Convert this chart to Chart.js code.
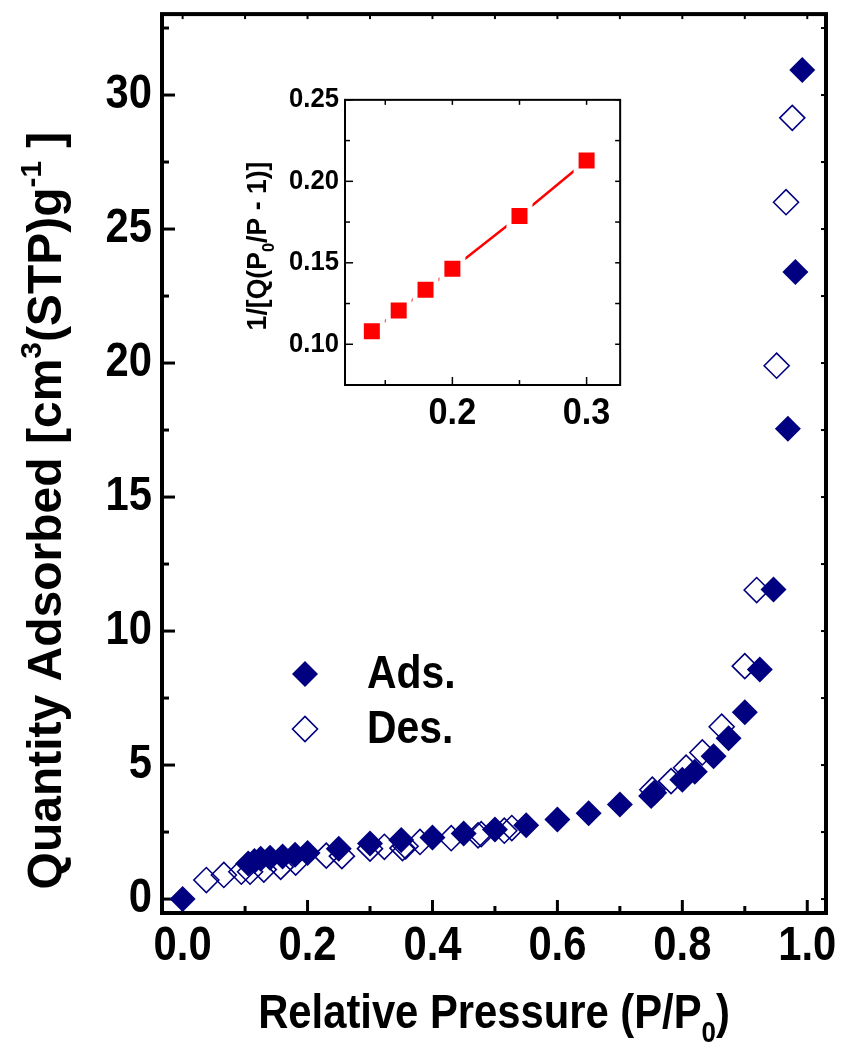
<!DOCTYPE html>
<html><head><meta charset="utf-8">
<script src="https://cdn.jsdelivr.net/npm/chart.js@4.4.1/dist/chart.umd.min.js"></script>
<style>
html,body{margin:0;padding:0;background:#fff;}
#wrap{position:relative;width:844px;height:1045px;overflow:hidden;background:#fff;}
#main{position:absolute;left:0;top:0;}
#inset{position:absolute;left:240px;top:80px;}
</style></head><body>
<div id="wrap"><canvas id="main" width="844" height="1045"></canvas><canvas id="inset" width="400" height="370"></canvas></div>
<script>
// ---- data ----
const adsX = [0.0, 0.105, 0.115, 0.125, 0.14, 0.16, 0.18, 0.2, 0.25, 0.3, 0.35, 0.4, 0.45, 0.5, 0.55, 0.6, 0.65, 0.7, 0.75, 0.755, 0.8, 0.82, 0.85, 0.874, 0.9, 0.924, 0.946, 0.969, 0.981, 0.992];
const adsY = [0.0, 1.33, 1.42, 1.5, 1.54, 1.59, 1.65, 1.72, 1.88, 2.07, 2.2, 2.3, 2.45, 2.6, 2.75, 2.97, 3.2, 3.53, 3.85, 3.97, 4.45, 4.75, 5.33, 6.0, 6.97, 8.57, 11.55, 17.55, 23.4, 30.93];
const desX = [0.038, 0.066, 0.094, 0.108, 0.13, 0.157, 0.181, 0.23, 0.255, 0.3, 0.323, 0.352, 0.357, 0.38, 0.43, 0.473, 0.478, 0.515, 0.527, 0.752, 0.782, 0.806, 0.832, 0.863, 0.9, 0.919, 0.951, 0.966, 0.976];
const desY = [0.71, 0.9, 1.02, 1.02, 1.1, 1.2, 1.36, 1.62, 1.6, 1.88, 1.95, 1.9, 1.97, 2.13, 2.27, 2.38, 2.42, 2.55, 2.65, 4.08, 4.4, 4.9, 5.47, 6.43, 8.69, 11.53, 19.9, 26.0, 29.15];
const seriesLabels = ['Ads.', 'Des.'];
const insetX = [0.14, 0.16, 0.18, 0.2, 0.25, 0.3];
const insetY = [0.108, 0.1207, 0.1335, 0.1463, 0.1787, 0.2128];

const xTitleMain = [['Relative Pressure (P/P',0],['0',-1],[')',0]];
const yTitleMain = [['Quantity Adsorbed [cm',0],['3',1],['(STP)g',0],['-1',1],[' ]',0]];
const yTitleInset = [['1/[Q(P',0],['0',-1],['/P - 1)]',0]];

const FONT = "'Liberation Sans', Arial, 'Helvetica', sans-serif";
const NAVY = '#000080';
const SX = 0.87; // horizontal condensing of the text glyphs

function pts(xs, ys){ return xs.map((x,i)=>({x:x, y:ys[i]})); }

// condense glyphs horizontally around their anchor point (text stays real text)
function condenseCtx(canvas, f){
  const ctx = canvas.getContext('2d');
  const orig = ctx.fillText.bind(ctx);
  ctx.__orig = orig;
  ctx.fillText = function(t, x, y){ this.save(); this.translate(x, y); this.scale(f, 1); orig(t, 0, 0); this.restore(); };
  return ctx;
}

function richText(ctx, segs, x, y, rot, size, sx){
  const fill = ctx.__orig || ctx.fillText.bind(ctx);
  ctx.save();
  ctx.translate(x, y); ctx.rotate(rot); ctx.scale(sx, 1);
  const fs = k => k===0 ? size : size*0.62;
  let total = 0;
  const widths = segs.map(([t,k]) => { ctx.font = 'bold ' + fs(k) + 'px ' + FONT; const w = ctx.measureText(t).width; total += w; return w; });
  let cx = -total/2;
  ctx.textBaseline = 'alphabetic'; ctx.textAlign = 'left'; ctx.fillStyle = '#000';
  segs.forEach(([t,k],i) => {
    ctx.font = 'bold ' + fs(k) + 'px ' + FONT;
    const dy = k===1 ? -size*0.42 : (k===-1 ? size*0.3 : 0);
    fill(t, cx, dy);
    cx += widths[i];
  });
  ctx.restore();
}

function frameTicks(cfg){
  return {
    id: 'frameTicks',
    beforeDatasetsDraw(chart){
      const {ctx, chartArea:a} = chart;
      const sx = chart.scales.x, sy = chart.scales.y;
      ctx.save();
      ctx.strokeStyle = '#000';
      ctx.lineCap = 'butt';
      sx.ticks.forEach(t => {
        const p = sx.getPixelForValue(t.value);
        const major = cfg.majX(t.value);
        ctx.lineWidth = cfg.tw;
        ctx.beginPath();
        ctx.moveTo(p, a.bottom); ctx.lineTo(p, a.bottom - (major ? cfg.maj : cfg.min));
        ctx.stroke();
        ctx.lineWidth = cfg.tw2;
        ctx.beginPath();
        ctx.moveTo(p, a.top); ctx.lineTo(p, a.top + cfg.mir);
        ctx.stroke();
      });
      sy.ticks.forEach(t => {
        const p = sy.getPixelForValue(t.value);
        const major = cfg.majY(t.value);
        ctx.lineWidth = cfg.tw;
        ctx.beginPath();
        ctx.moveTo(a.left, p); ctx.lineTo(a.left + (major ? cfg.maj : cfg.min), p);
        ctx.stroke();
        ctx.lineWidth = cfg.tw2;
        ctx.beginPath();
        ctx.moveTo(a.right, p); ctx.lineTo(a.right - cfg.mir, p);
        ctx.stroke();
      });
      ctx.lineWidth = cfg.frame;
      ctx.strokeRect(a.left, a.top, a.right - a.left, a.bottom - a.top);
      ctx.restore();
    }
  };
}

const isMajMainX = v => Math.abs(Math.round(v*10)) % 2 === 0;
const isMajMainY = v => Math.abs(Math.round(v*2)) % 2 === 0;

const mainTitles = {
  id: 'mainTitles',
  afterDraw(chart){
    const {ctx, chartArea:a} = chart;
    richText(ctx, xTitleMain, (a.left + a.right)/2, a.bottom + 115, 0, 48, SX);
    richText(ctx, yTitleMain, a.left - 101, (a.top + a.bottom)/2 + 47, -Math.PI/2, 48, 1.0);
    // legend
    const items = chart.data.datasets;
    const lx = a.left + 143, ly0 = 674, dy = 55;
    items.forEach((ds, i) => {
      const y = ly0 + i*dy;
      ctx.save();
      ctx.fillStyle = ds.backgroundColor;
      ctx.strokeStyle = ds.borderColor;
      ctx.lineWidth = ds.borderWidth;
      if (Chart.helpers && Chart.helpers.drawPoint) {
        Chart.helpers.drawPoint(ctx, {pointStyle: 'rectRot', radius: ds.pointRadius, rotation: 0, borderWidth: ds.borderWidth}, lx, y);
      }
      ctx.fillStyle = '#000';
      ctx.font = 'bold 47px ' + FONT;
      ctx.textAlign = 'left'; ctx.textBaseline = 'alphabetic';
      ctx.fillText(ds.label, lx + 62, y + 14);
      ctx.restore();
    });
  }
};

const noPadX = s => { s.paddingLeft = 0; s.paddingRight = 0; };
const noPadY = s => { s.paddingTop = 0; s.paddingBottom = 0; };

new Chart(condenseCtx(document.getElementById('main'), SX), {
  type: 'scatter',
  data: {
    datasets: [
      { label: seriesLabels[0], data: pts(adsX, adsY), pointStyle: 'rectRot', pointRadius: 13, borderWidth: 0, backgroundColor: NAVY, borderColor: NAVY, clip: false },
      { label: seriesLabels[1], data: pts(desX, desY), pointStyle: 'rectRot', pointRadius: 12.5, borderWidth: 1.6, backgroundColor: 'rgba(0,0,0,0)', borderColor: NAVY, clip: false }
    ]
  },
  options: {
    responsive: false, animation: false, devicePixelRatio: 1,
    layout: { padding: { left: 0, top: 14, right: 18, bottom: 0 } },
    plugins: { legend: { display: false }, tooltip: { enabled: false } },
    scales: {
      x: {
        type: 'linear', position: 'bottom', min: -0.033, max: 1.03,
        grid: { display: false, drawTicks: false }, border: { display: false },
        ticks: { stepSize: 0.1, includeBounds: false, autoSkip: false, maxRotation: 0, padding: 5, color: '#000',
          font: { size: 48, weight: 'bold', family: FONT },
          callback: v => isMajMainX(v) ? (Math.round(v*10)/10).toFixed(1) : '' },
        afterFit: s => { s.height = 132; noPadX(s); }
      },
      y: {
        type: 'linear', position: 'left', min: -0.52, max: 33.02,
        grid: { display: false, drawTicks: false }, border: { display: false },
        ticks: { stepSize: 2.5, includeBounds: false, autoSkip: false, padding: 10, color: '#000',
          font: { size: 48, weight: 'bold', family: FONT },
          callback: v => isMajMainY(v) ? String(Math.round(v)) : '' },
        afterFit: s => { s.width = 162; noPadY(s); }
      }
    }
  },
  plugins: [frameTicks({majX: isMajMainX, majY: isMajMainY, maj: 13, min: 7, mir: 5, tw: 3, tw2: 2, frame: 4}), mainTitles]
});

// ---- inset ----
const isMajInX = v => Math.abs(Math.round(v*20)) % 2 === 0;
const isMajInY = v => Math.abs(Math.round(v*40)) % 2 === 0;
const insetTitles = {
  id: 'insetTitles',
  afterDraw(chart){
    const {ctx} = chart;
    richText(ctx, yTitleInset, 26, 166, -Math.PI/2, 28, 0.95);
  }
};
new Chart(condenseCtx(document.getElementById('inset'), 0.95), {
  type: 'line',
  data: {
    datasets: [{
      data: pts(insetX, insetY), borderColor: '#ff0000', borderWidth: 2.5, tension: 0,
      pointStyle: 'rect', pointRadius: 14.85, pointBackgroundColor: '#ff0000', pointBorderColor: '#ffffff', pointBorderWidth: 5, clip: false
    }]
  },
  options: {
    responsive: false, animation: false, devicePixelRatio: 1,
    layout: { padding: { left: 0, top: 18, right: 15, bottom: 0 } },
    plugins: { legend: { display: false }, tooltip: { enabled: false } },
    scales: {
      x: {
        type: 'linear', position: 'bottom', min: 0.12, max: 0.325,
        grid: { display: false, drawTicks: false }, border: { display: false },
        ticks: { stepSize: 0.05, includeBounds: false, autoSkip: false, maxRotation: 0, padding: 7, color: '#000',
          font: { size: 36, weight: 'bold', family: FONT },
          callback: v => isMajInX(v) ? (Math.round(v*10)/10).toFixed(1) : '' },
        afterFit: s => { s.height = 65; noPadX(s); }
      },
      y: {
        type: 'linear', position: 'left', min: 0.075, max: 0.25,
        grid: { display: false, drawTicks: false }, border: { display: false },
        ticks: { stepSize: 0.025, includeBounds: false, autoSkip: false, padding: 6, color: '#000',
          font: { size: 27, weight: 'bold', family: FONT },
          callback: v => isMajInY(v) ? (Math.round(v*100)/100).toFixed(2) : '' },
        afterFit: s => { s.width = 105; noPadY(s); }
      }
    }
  },
  plugins: [frameTicks({majX: isMajInX, majY: isMajInY, maj: 8, min: 5, mir: 5, tw: 1.5, tw2: 1.5, frame: 2}), insetTitles]
});
</script>
</body></html>
